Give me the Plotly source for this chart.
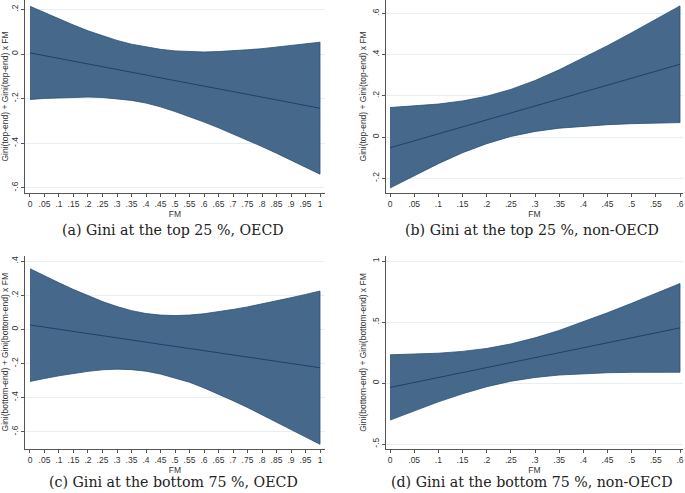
import plotly.graph_objects as go

# ---------------- data ----------------
fm_oecd = [0, .05, .1, .15, .2, .25, .3, .35, .4, .45, .5, .55, .6, .65, .7, .75, .8, .85, .9, .95, 1.0]
fm_non = [0, .05, .1, .15, .2, .25, .3, .35, .4, .45, .5, .55, .6]

# (a) Gini at the top 25 %, OECD
a_mid = [0.005, -0.007, -0.020, -0.032, -0.045, -0.057, -0.069, -0.082, -0.094, -0.107, -0.119,
         -0.131, -0.144, -0.156, -0.169, -0.181, -0.193, -0.206, -0.218, -0.231, -0.243]
a_up = [0.214, 0.185, 0.156, 0.130, 0.104, 0.081, 0.061, 0.044, 0.031, 0.021, 0.014,
        0.010, 0.009, 0.011, 0.014, 0.019, 0.024, 0.031, 0.038, 0.046, 0.053]
a_lo = [-0.204, -0.199, -0.196, -0.194, -0.193, -0.195, -0.200, -0.208, -0.220, -0.237, -0.258,
        -0.281, -0.305, -0.331, -0.358, -0.386, -0.415, -0.445, -0.476, -0.507, -0.539]

# (b) Gini at the top 25 %, non-OECD
b_mid = [-0.052, -0.018, 0.016, 0.049, 0.083, 0.117, 0.151, 0.184, 0.218, 0.252, 0.286, 0.319, 0.353]
b_up = [0.143, 0.150, 0.160, 0.175, 0.198, 0.231, 0.274, 0.326, 0.383, 0.443, 0.506, 0.570, 0.636]
b_lo = [-0.247, -0.186, -0.129, -0.076, -0.032, 0.003, 0.027, 0.043, 0.053, 0.060, 0.065, 0.068, 0.070]

# (c) Gini at the bottom 75 %, OECD
c_mid = [0.026, 0.013, 0.001, -0.012, -0.025, -0.037, -0.050, -0.062, -0.075, -0.087, -0.100,
         -0.112, -0.125, -0.137, -0.150, -0.162, -0.175, -0.187, -0.200, -0.212, -0.225]
c_up = [0.356, 0.313, 0.273, 0.234, 0.197, 0.163, 0.134, 0.110, 0.093, 0.084, 0.081,
        0.084, 0.092, 0.103, 0.117, 0.132, 0.149, 0.167, 0.186, 0.205, 0.225]
c_lo = [-0.305, -0.288, -0.272, -0.258, -0.246, -0.237, -0.233, -0.236, -0.245, -0.262, -0.284,
        -0.310, -0.343, -0.379, -0.418, -0.458, -0.500, -0.543, -0.587, -0.630, -0.674]

# (d) Gini at the bottom 75 %, non-OECD
d_mid = [-0.036, 0.005, 0.046, 0.086, 0.127, 0.168, 0.209, 0.249, 0.290, 0.331, 0.372, 0.412, 0.453]
d_up = [0.232, 0.237, 0.245, 0.260, 0.284, 0.321, 0.371, 0.432, 0.502, 0.577, 0.655, 0.735, 0.817]
d_lo = [-0.304, -0.227, -0.154, -0.088, -0.030, 0.015, 0.046, 0.066, 0.078, 0.085, 0.088, 0.090, 0.089]

# tick labels
xt_oecd_vals = [0, .05, .1, .15, .2, .25, .3, .35, .4, .45, .5, .55, .6, .65, .7, .75, .8, .85, .9, .95, 1]
xt_oecd_text = ["0", ".05", ".1", ".15", ".2", ".25", ".3", ".35", ".4", ".45", ".5", ".55", ".6",
                ".65", ".7", ".75", ".8", ".85", ".9", ".95", "1"]
xt_non_vals = [0, .05, .1, .15, .2, .25, .3, .35, .4, .45, .5, .55, .6]
xt_non_text = ["0", ".05", ".1", ".15", ".2", ".25", ".3", ".35", ".4", ".45", ".5", ".55", ".6"]
yt_a_vals, yt_a_text = [-0.6, -0.4, -0.2, 0, 0.2], ["-.6", "-.4", "-.2", "0", ".2"]
yt_b_vals, yt_b_text = [-0.2, 0, 0.2, 0.4, 0.6], ["-.2", "0", ".2", ".4", ".6"]
yt_c_vals, yt_c_text = [-0.6, -0.4, -0.2, 0, 0.2, 0.4], ["-.6", "-.4", "-.2", "0", ".2", ".4"]
yt_d_vals, yt_d_text = [-0.5, 0, 0.5, 1], ["-.5", "0", ".5", "1"]

captions = ["(a) Gini at the top 25 %, OECD", "(b) Gini at the top 25 %, non-OECD",
            "(c) Gini at the bottom 75 %, OECD", "(d) Gini at the bottom 75 %, non-OECD"]
ytitle_top = "Gini(top-end) + Gini(top-end) x FM"
ytitle_bot = "Gini(bottom-end) + Gini(bottom-end) x FM"
xtitle = "FM"

# ---------------- styling ----------------
W, H = 685, 493
BAND = "#46688b"
EDGE = "#2b4f74"
LINE = "#1d4268"
GRID = "#e6eff1"
AX = "#555555"
SANS = "Liberation Sans, Arial, sans-serif"
SERIF = "DejaVu Serif, serif"

fig = go.Figure()

panels = [
    (fm_oecd, a_mid, a_up, a_lo, "", (25, 325), (0, 193), (-0.0172, 1.0172), (-0.6233, 0.2422),
     (xt_oecd_vals, xt_oecd_text), (yt_a_vals, yt_a_text), ytitle_top),
    (fm_non, b_mid, b_up, b_lo, "2", (386, 683), (0, 192.7), (-0.0083, 0.6062), (-0.2698, 0.6645),
     (xt_non_vals, xt_non_text), (yt_b_vals, yt_b_text), ytitle_top),
    (fm_oecd, c_mid, c_up, c_lo, "3", (25, 325), (256, 448.5), (-0.0172, 1.0172), (-0.6985, 0.4305),
     (xt_oecd_vals, xt_oecd_text), (yt_c_vals, yt_c_text), ytitle_bot),
    (fm_non, d_mid, d_up, d_lo, "4", (386, 683), (256, 449), (-0.0083, 0.6062), (-0.541, 1.0427),
     (xt_non_vals, xt_non_text), (yt_d_vals, yt_d_text), ytitle_bot),
]

layout = {}
for (xs, mid, up, lo, sfx, xpx, ypx, xr, yr, xt, yt, ytitle) in panels:
    xa, ya = "x" + sfx, "y" + sfx
    fig.add_trace(go.Scatter(x=list(xs) + list(xs)[::-1], y=list(up) + list(lo)[::-1],
                             mode="lines", fill="toself", fillcolor=BAND,
                             line=dict(color=EDGE, width=0.8), xaxis=xa, yaxis=ya,
                             showlegend=False, hoverinfo="skip"))
    fig.add_trace(go.Scatter(x=xs, y=mid, mode="lines", line=dict(color=LINE, width=1),
                             xaxis=xa, yaxis=ya, showlegend=False))
    layout["xaxis" + sfx] = dict(
        domain=[xpx[0] / W, xpx[1] / W], range=list(xr), anchor=ya,
        tickvals=xt[0], ticktext=xt[1], ticks="outside", ticklen=3, tickcolor=AX,
        showline=True, linecolor=AX, linewidth=1, showgrid=False, zeroline=False,
        tickfont=dict(family=SANS, size=8.5, color="#333333"), ticklabeloverflow="allow",
        title=dict(text=xtitle, font=dict(family=SANS, size=8.5, color="#333333"), standoff=0),
        automargin=False,
    )
    layout["yaxis" + sfx] = dict(
        domain=[1 - ypx[1] / H, 1 - ypx[0] / H], range=list(yr), anchor=xa,
        tickvals=yt[0], ticktext=yt[1], ticks="outside", ticklen=3, tickcolor=AX,
        tickangle=-90, showline=True, linecolor=AX, linewidth=1,
        showgrid=True, gridcolor=GRID, gridwidth=1, zeroline=False,
        tickfont=dict(family=SANS, size=8.5, color="#333333"), ticklabeloverflow="allow",
        title=dict(text=ytitle, font=dict(family=SANS, size=8.5, color="#333333"), standoff=2),
        automargin=False,
    )

cap_pos = [(173, 230), (531.5, 230), (173, 481.5), (532, 481.5)]
annotations = []
for text, (cx, cy) in zip(captions, cap_pos):
    annotations.append(dict(text=text, x=cx / W, y=1 - cy / H, xref="paper", yref="paper",
                            showarrow=False, xanchor="center", yanchor="middle",
                            font=dict(family=SERIF, size=14.2, color="#222222")))

fig.update_layout(width=W, height=H, margin=dict(l=0, r=0, t=0, b=0),
                  paper_bgcolor="white", plot_bgcolor="white",
                  annotations=annotations, **layout)

fig.write_html("out.html", config={"displayModeBar": False},
               post_script="document.body.style.margin='0';document.body.style.overflow='hidden';")
